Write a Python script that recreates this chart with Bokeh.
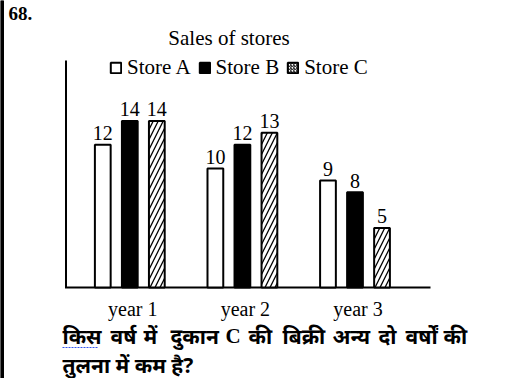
from bokeh.plotting import figure
from bokeh.models import Range1d, Legend, LegendItem
from bokeh.core.properties import value
from bokeh.embed import file_html
from bokeh.resources import INLINE

# ---------------- data ----------------
years = ["year 1", "year 2", "year 3"]
stores = ["Store A", "Store B", "Store C"]
store_a = [12, 10, 9]
store_b = [14, 12, 8]
store_c = [14, 13, 5]
chart_title = "Sales of stores"
question_no = "68."
question_line1 = ["किस", "वर्ष", "में", "दुकान", "C", "की", "बिक्री", "अन्य", "दो", "वर्षों", "की"]
question_line2 = "तुलना में कम है?"

# ---------------- layout ----------------
W, H = 506, 378
PX_X, X1_PX = 112.6, 129.3       # pixels per group, pixel of group 1
PX_Y, BASE_PX = 11.9, 287         # pixels per unit, baseline pixel (from top)
xs = 1 - X1_PX / PX_X
ys = -(H - BASE_PX) / PX_Y
OFF, BW = 0.24, 0.14
SERIF = value("Liberation Serif")
FIX = 0.34                        # baseline correction (fraction of font size)

p = figure(width=W, height=H, x_range=Range1d(xs, xs + W / PX_X),
           y_range=Range1d(ys, ys + H / PX_Y), min_border=0,
           output_backend="svg", toolbar_location=None,
           x_axis_type=None, y_axis_type=None, outline_line_color=None)
p.extra_x_ranges = {"px": Range1d(0, W)}
p.extra_y_ranges = {"px": Range1d(H, 0)}
PX = dict(x_range_name="px", y_range_name="px")

pos = list(range(1, len(years) + 1))
xa = [g - OFF for g in pos]
xb = list(pos)
xc = [g + OFF for g in pos]

# frame decorations: left border, axis lines
p.quad(left=[0], right=[3], top=[0], bottom=[H], color="black", **PX)
p.segment(x0=[65.5, 64.5], y0=[60, BASE_PX], x1=[65.5, 430], y1=[BASE_PX, BASE_PX],
          line_color="black", line_width=2, **PX)

ra = p.vbar(x=xa, top=store_a, width=BW, bottom=0, fill_color="white",
            line_color="black", line_width=2)
rb = p.vbar(x=xb, top=store_b, width=BW, bottom=0, fill_color="black",
            line_color="black", line_width=2)
rc = p.vbar(x=xc, top=store_c, width=BW, bottom=0, fill_color="white",
            line_color="black", line_width=2, hatch_pattern="/",
            hatch_scale=10, hatch_weight=1.3, hatch_color="black")
rc_key = p.vbar(x=xc, top=store_c, width=BW, bottom=0, fill_color="white",
                line_color="black", line_width=2, hatch_pattern="/",
                hatch_scale=3, hatch_weight=1, hatch_color="black",
                visible=False)

# value labels
for xx, vals in ((xa, store_a), (xb, store_b), (xc, store_c)):
    p.text(x=xx, y=vals, text=[str(v) for v in vals], text_align="center",
           text_baseline="alphabetic", y_offset=-5 - FIX * 20, text_font=SERIF,
           text_font_size="20px", text_color="black")

# category labels
p.text(x=pos, y=[0] * len(pos), text=years, text_align="center",
       text_baseline="alphabetic", y_offset=28 - FIX * 20, x_offset=3,
       text_font=SERIF, text_font_size="20px", text_color="black")

# title and number
p.text(x=[228.5], y=[45], text=[chart_title], text_align="center",
       text_baseline="alphabetic", y_offset=-FIX * 21, text_font=SERIF,
       text_font_size="21px", text_color="black", **PX)
p.text(x=[8], y=[19], text=[question_no], text_align="left",
       text_baseline="alphabetic", y_offset=-FIX * 19, text_font=SERIF,
       text_font_size="19px", text_font_style="bold", text_color="black", **PX)

legend = Legend(items=[LegendItem(label=stores[0], renderers=[ra]),
                       LegendItem(label=stores[1], renderers=[rb]),
                       LegendItem(label=stores[2], renderers=[rc_key])],
                orientation="horizontal", location=(109, H - 80),
                glyph_width=13, glyph_height=13, label_standoff=5, spacing=7,
                padding=0, margin=0, border_line_alpha=0,
                background_fill_alpha=0, label_text_font="Liberation Serif",
                label_text_font_size="21px", label_text_color="black")
p.add_layout(legend)

# question text
word_x = [62, 110, 143, 170, 225, 248, 282, 332, 378, 405, 443]
for wx, wd in zip(word_x, question_line1):
    is_latin = wd.isascii()
    p.text(x=[wx], y=[343], text=[wd], text_align="left",
           text_baseline="alphabetic", y_offset=-FIX * 21,
           text_font=SERIF if is_latin else value("Noto Sans"),
           text_font_size="21px", text_font_style="bold",
           text_color="black", **PX)
p.text(x=[62], y=[372], text=[question_line2], text_align="left",
       text_baseline="alphabetic", y_offset=-FIX * 21,
       text_font=value("Noto Sans"),
       text_font_size="21px", text_font_style="bold", text_color="black", **PX)
p.segment(x0=[62], y0=[347], x1=[98], y1=[347], line_color="#3355ee",
          line_width=1, line_dash="2 1", **PX)

open("out.html", "w").write(file_html(p, INLINE))
